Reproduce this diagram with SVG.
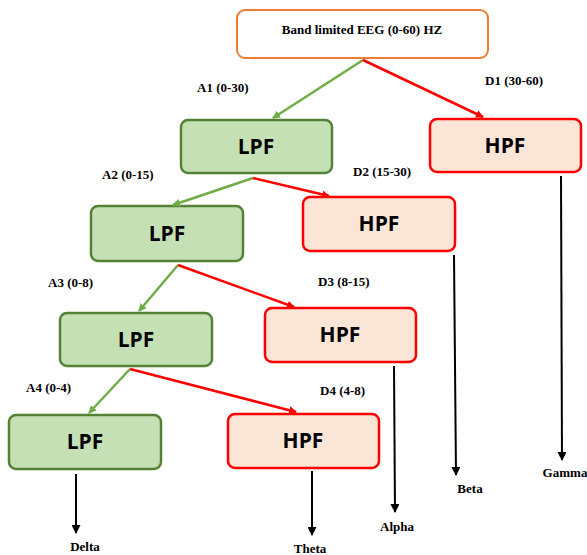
<svg xmlns="http://www.w3.org/2000/svg" width="587" height="555" viewBox="0 0 587 555">
<defs>
<marker id="mg" markerWidth="8" markerHeight="8" refX="7" refY="4" orient="auto" markerUnits="userSpaceOnUse"><path d="M0,0 L8,4 L0,8 Z" fill="#70AD47"/></marker>
<marker id="mr" markerWidth="8" markerHeight="8" refX="7" refY="4" orient="auto" markerUnits="userSpaceOnUse"><path d="M0,0 L8,4 L0,8 Z" fill="#FF0000"/></marker>
<marker id="mk" markerWidth="9" markerHeight="9" refX="8" refY="4.5" orient="auto" markerUnits="userSpaceOnUse"><path d="M0,0 L9,4.5 L0,9 Z" fill="#000"/></marker>
</defs>
<style>
.lpf{fill:#C5E0B4;stroke:#548235;stroke-width:2.5}
.hpf{fill:#FBE5D6;stroke:#FF0000;stroke-width:2.5}
.top{fill:#fff;stroke:#ED7D31;stroke-width:2}
.bt{font-family:'Open Sans','Liberation Sans',sans-serif;font-weight:bold;font-size:21px;text-anchor:middle;fill:#000}
.lb{font-family:'Liberation Serif','DejaVu Serif',serif;font-weight:bold;font-size:13px;fill:#000}
.g{stroke:#70AD47;stroke-width:2.5;fill:none;marker-end:url(#mg)}
.r{stroke:#FF0000;stroke-width:2.5;fill:none;marker-end:url(#mr)}
.k{stroke:#000;stroke-width:2;fill:none;marker-end:url(#mk)}
</style>
<g id="source"><rect class="top" x="237" y="10" width="251" height="48" rx="8"/><text class="lb" x="362" y="34" text-anchor="middle">Band limited EEG (0-60) HZ</text></g>
<g id="lpf1"><rect class="lpf" x="181" y="120" width="151" height="53" rx="7"/><text class="bt" x="256" y="154">LPF</text></g>
<g id="hpf1"><rect class="hpf" x="430" y="119" width="151" height="53" rx="7"/><text class="bt" x="505" y="153">HPF</text></g>
<g id="lpf2"><rect class="lpf" x="91" y="206" width="152" height="55" rx="7"/><text class="bt" x="167" y="241">LPF</text></g>
<g id="hpf2"><rect class="hpf" x="303" y="197" width="152" height="54" rx="7"/><text class="bt" x="379" y="231">HPF</text></g>
<g id="lpf3"><rect class="lpf" x="60" y="313" width="152" height="53" rx="7"/><text class="bt" x="136" y="347">LPF</text></g>
<g id="hpf3"><rect class="hpf" x="265" y="308" width="151" height="54" rx="7"/><text class="bt" x="340" y="342">HPF</text></g>
<g id="lpf4"><rect class="lpf" x="9" y="415" width="152" height="54" rx="7"/><text class="bt" x="85" y="449">LPF</text></g>
<g id="hpf4"><rect class="hpf" x="228" y="414" width="151" height="54" rx="7"/><text class="bt" x="303" y="448">HPF</text></g>
<g id="connectors">
<line class="g" x1="363" y1="60" x2="273" y2="118"/>
<line class="r" x1="363" y1="60" x2="483" y2="117"/>
<line class="g" x1="253" y1="178" x2="173" y2="205"/>
<line class="r" x1="253" y1="178" x2="329" y2="196"/>
<line class="g" x1="178" y1="265" x2="139" y2="311"/>
<line class="r" x1="178" y1="265" x2="294" y2="307"/>
<line class="g" x1="130" y1="369" x2="89" y2="413"/>
<line class="r" x1="130" y1="369" x2="296" y2="412"/>
<line class="k" x1="76" y1="474" x2="76" y2="533"/>
<line class="k" x1="312" y1="471" x2="312" y2="535"/>
<line class="k" x1="394" y1="366" x2="395" y2="512"/>
<line class="k" x1="454" y1="255" x2="456" y2="475"/>
<line class="k" x1="561" y1="176" x2="562" y2="460"/>
</g>
<g id="labels">
<text class="lb" x="197" y="92">A1 (0-30)</text>
<text class="lb" x="485" y="85">D1 (30-60)</text>
<text class="lb" x="102" y="179">A2 (0-15)</text>
<text class="lb" x="353" y="176">D2 (15-30)</text>
<text class="lb" x="48" y="287">A3 (0-8)</text>
<text class="lb" x="318" y="286">D3 (8-15)</text>
<text class="lb" x="26" y="392">A4 (0-4)</text>
<text class="lb" x="320" y="395">D4 (4-8)</text>
<text class="lb" x="85" y="551" text-anchor="middle">Delta</text>
<text class="lb" x="310" y="553" text-anchor="middle">Theta</text>
<text class="lb" x="397" y="531" text-anchor="middle">Alpha</text>
<text class="lb" x="470" y="493" text-anchor="middle">Beta</text>
<text class="lb" x="565" y="477" text-anchor="middle">Gamma</text>
</g>
</svg>
